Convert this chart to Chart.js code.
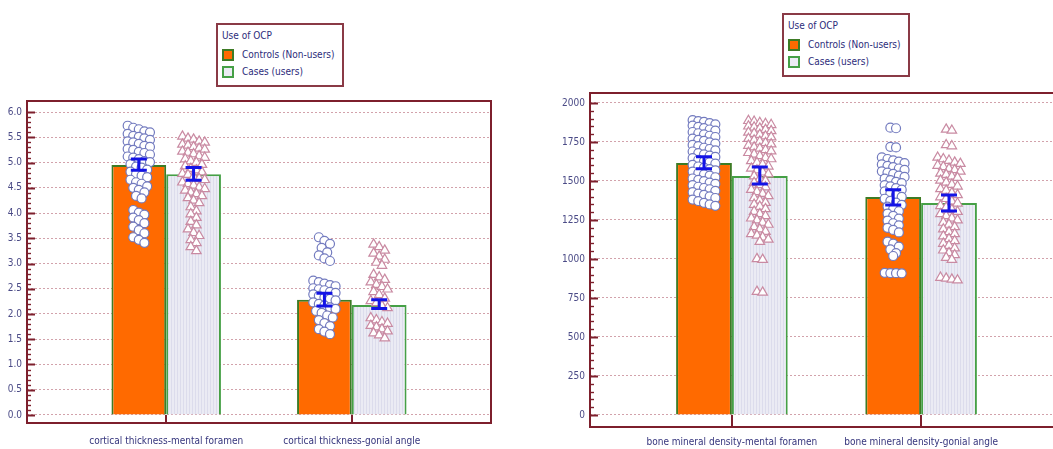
<!DOCTYPE html>
<html>
<head>
<meta charset="utf-8">
<script src="https://cdn.jsdelivr.net/npm/chart.js@4.4.1/dist/chart.umd.min.js"></script>
<style>
  html, body { margin: 0; padding: 0; background: #fff; width: 1053px; height: 449px; overflow: hidden; }
  .panel { position: absolute; top: 0; height: 449px; }
  #leftWrap { left: 0; width: 500px; }
  #rightWrap { left: 540px; width: 530px; }
  .legend {
    position: absolute; box-sizing: border-box; width: 128px; height: 64px;
    border: 2px solid #8a3a46; background: #fff; white-space: nowrap;
    font: 10px 'DejaVu Sans Condensed', sans-serif;
    color: #2c2c7a; padding: 3px 4px;
  }
  .legend .ttl { height: 16px; line-height: 16px; margin-bottom: 2px; }
  .legend .row { height: 17px; line-height: 17px; display: flex; align-items: center; }
  .legend .sw { width: 8px; height: 8px; border: 2px solid #3f7a22; margin-right: 8px; }
</style>
</head>
<body>
<div class="panel" id="leftWrap"><canvas id="leftChart" width="500" height="449"></canvas></div>
<div class="panel" id="rightWrap"><canvas id="rightChart" width="530" height="449"></canvas></div>
<div class="legend" id="legendL" style="left:216px;top:23px"></div>
<div class="legend" id="legendR" style="left:782px;top:13px"></div>
<script>
// series names and categories
const SERIES = ['Controls (Non-users)', 'Cases (users)'];
const LEGEND_TITLE = 'Use of OCP';
const CATS_L = ['cortical thickness-mental foramen', 'cortical thickness-gonial angle'];
const CATS_R = ['bone mineral density-mental foramen', 'bone mineral density-gonial angle'];

// y tick labels
const TICKS_L = [0, 0.5, 1, 1.5, 2, 2.5, 3, 3.5, 4, 4.5, 5, 5.5, 6];
const TICKS_R = [0, 250, 500, 750, 1000, 1250, 1500, 1750, 2000];

// bar heights (means)
const MEAN_CONTROLS_L = [4.95, 2.28];
const MEAN_CASES_L = [4.77, 2.18];
const MEAN_CONTROLS_R = [1615, 1397];
const MEAN_CASES_R = [1532, 1359];

// error bars (low, high)
const CI_CONTROLS_L = [[4.85, 5.07], [2.16, 2.41]];
const CI_CASES_L = [[4.65, 4.90], [2.11, 2.28]];
const CI_CONTROLS_R = [[1578, 1655], [1346, 1444]];
const CI_CASES_R = [[1480, 1590], [1308, 1410]];

// individual observations
const PTS_CONTROLS_L = [
  [5.73, 5.69, 5.66, 5.62, 5.6, 5.57, 5.53, 5.51, 5.48, 5.45, 5.42, 5.4, 5.37, 5.33, 5.31, 5.27, 5.25, 5.21, 5.19, 5.16,
   5.12, 5.1, 5.07, 5.03, 5.01, 4.97, 4.92, 4.9, 4.86, 4.82, 4.77, 4.74, 4.71, 4.66, 4.61, 4.58, 4.53, 4.5, 4.46, 4.41,
   4.34, 4.29, 4.06, 4.01, 3.97, 3.91, 3.86, 3.8, 3.73, 3.66, 3.6, 3.52, 3.47, 3.41],
  [3.52, 3.45, 3.39, 3.31, 3.22, 3.16, 3.1, 3.05, 2.66, 2.63, 2.6, 2.57, 2.55, 2.51, 2.49, 2.47, 2.44, 2.42, 2.39, 2.36,
   2.33, 2.3, 2.27, 2.23, 2.2, 2.17, 2.13, 2.1, 2.06, 2.02, 1.97, 1.93, 1.88, 1.82, 1.76, 1.7, 1.65, 1.6]
];
const PTS_CASES_L = [
  [5.52, 5.48, 5.46, 5.42, 5.4, 5.36, 5.34, 5.31, 5.28, 5.26, 5.22, 5.2, 5.17, 5.13, 5.1, 5.07, 5.03, 5.0, 4.96, 4.93,
   4.88, 4.85, 4.81, 4.78, 4.76, 4.72, 4.68, 4.66, 4.61, 4.58, 4.55, 4.51, 4.48, 4.45, 4.41, 4.38, 4.34, 4.3, 4.25, 4.2,
   4.12, 4.04, 3.98, 3.91, 3.83, 3.76, 3.68, 3.61, 3.55, 3.47, 3.41, 3.33, 3.25],
  [3.38, 3.33, 3.26, 3.2, 3.14, 3.08, 3.02, 2.96, 2.78, 2.73, 2.68, 2.63, 2.58, 2.54, 2.49, 2.44, 2.38, 2.31, 2.26, 2.22,
   2.16, 2.12, 1.92, 1.88, 1.84, 1.81, 1.77, 1.74, 1.7, 1.66, 1.62, 1.58, 1.52]
];
const PTS_CONTROLS_R = [
  [1890, 1884, 1879, 1871, 1863, 1855, 1847, 1839, 1830, 1823, 1814, 1806, 1799, 1790, 1782, 1772, 1764, 1757, 1748, 1740,
   1731, 1723, 1713, 1705, 1696, 1689, 1679, 1671, 1663, 1654, 1646, 1636, 1627, 1620, 1611, 1603, 1593, 1586, 1576, 1568,
   1560, 1550, 1542, 1534, 1524, 1516, 1507, 1499, 1489, 1481, 1473, 1463, 1455, 1447, 1437, 1428, 1419, 1411, 1401, 1391,
   1381, 1371, 1360, 1350, 1341],
  [1842, 1838, 1719, 1715, 1651, 1641, 1632, 1624, 1614, 1606, 1597, 1589, 1580, 1571, 1562, 1554, 1545, 1534, 1526, 1515,
   1506, 1494, 1486, 1474, 1466, 1454, 1444, 1433, 1421, 1409, 1398, 1386, 1373, 1361, 1347, 1336, 1321, 1306, 1291, 1276,
   1259, 1246, 1229, 1216, 1200, 1186, 1170, 1111, 1098, 1079, 1061, 1038, 1019, 911, 910, 909, 908]
];
const PTS_CASES_R = [
  [1886, 1881, 1873, 1867, 1860, 1851, 1844, 1837, 1829, 1821, 1811, 1804, 1797, 1787, 1781, 1771, 1761, 1753, 1744, 1736,
   1727, 1717, 1709, 1699, 1691, 1681, 1671, 1661, 1649, 1641, 1629, 1617, 1606, 1594, 1581, 1569, 1556, 1544, 1531, 1514,
   1501, 1489, 1476, 1461, 1444, 1431, 1419, 1404, 1391, 1376, 1361, 1349, 1336, 1321, 1304, 1289, 1276, 1261, 1249, 1234,
   1221, 1206, 1191, 1176, 1161, 1151, 1139, 1126, 1111, 1001, 996, 791, 786],
  [1831, 1824, 1731, 1724, 1651, 1641, 1631, 1619, 1611, 1599, 1591, 1579, 1571, 1561, 1549, 1541, 1529, 1521, 1504, 1491,
   1477, 1466, 1449, 1439, 1424, 1411, 1397, 1386, 1369, 1357, 1341, 1331, 1316, 1303, 1289, 1276, 1261, 1249, 1234, 1221,
   1206, 1191, 1174, 1161, 1146, 1129, 1116, 1099, 1086, 1069, 1056, 1039, 1026, 1009, 996, 881, 876, 869, 864]
];

const FONT = "'DejaVu Sans Condensed', sans-serif";
const MAROON = '#7d1f2c';
const CAT_PCT = 0.59;           // share of the category used by the two bars
const HALF = CAT_PCT / 4;       // offset from category centre to each bar centre

// legends (html)
function buildLegend(el) {
  el.innerHTML = '<div class="ttl">' + LEGEND_TITLE + '</div>' +
    '<div class="row"><span class="sw" style="background:#ff6a00;border-color:#3d7b25"></span>' + SERIES[0] + '</div>' +
    '<div class="row"><span class="sw" style="background:#ececf4;border-color:#46a046"></span>' + SERIES[1] + '</div>';
}
buildLegend(document.getElementById('legendL'));
buildLegend(document.getElementById('legendR'));

// stack close values in short rows so the dots sit side by side
function swarm(values, centre, thr, step) {
  const sorted = [...values].sort((a, b) => b - a);
  const out = [];
  let row = [];
  const flush = () => {
    row.forEach((v, k) => out.push({ x: centre + (k - (row.length - 1) / 2) * step, y: v }));
    row = [];
  };
  sorted.forEach(v => {
    if (row.length && (row[0] - v > thr || row.length >= 5)) flush();
    row.push(v);
  });
  flush();
  return out;
}

function stripes(ctx) {
  const c = document.createElement('canvas');
  c.width = 3; c.height = 4;
  const g = c.getContext('2d');
  g.fillStyle = '#ebebf4'; g.fillRect(0, 0, 3, 4);
  g.fillStyle = '#dcdcec'; g.fillRect(0, 0, 1, 4);
  return ctx.createPattern(c, 'repeat');
}

// frame, inner y ticks and category ticks
const framePlugin = {
  id: 'frame',
  afterDraw(chart, args, opts) {
    const { ctx, chartArea: a, scales } = chart;
    const y = scales.y, x = scales.x;
    ctx.save();
    ctx.strokeStyle = MAROON;
    for (let v = 0; v <= opts.top + 1e-9; v += opts.minor) {
      const py = Math.round(y.getPixelForValue(v)) + 0.5;
      const major = Math.abs(v / opts.major - Math.round(v / opts.major)) < 1e-6;
      ctx.lineWidth = major ? 2 : 1.4;
      ctx.beginPath();
      ctx.moveTo(a.left, py);
      ctx.lineTo(a.left + (major ? 8 : 4), py);
      ctx.stroke();
    }
    ctx.lineWidth = 2;
    x.ticks.forEach(t => {
      const px = Math.round(x.getPixelForValue(t.value));
      ctx.beginPath();
      ctx.moveTo(px, a.bottom);
      ctx.lineTo(px, y.getPixelForValue(0));
      ctx.stroke();
    });
    ctx.strokeRect(a.left, a.top, a.right - a.left, a.bottom - a.top);
    ctx.restore();
  }
};

// mean +/- CI markers
const errPlugin = {
  id: 'errbars',
  afterDatasetsDraw(chart, args, opts) {
    const { ctx, scales: { x, y } } = chart;
    ctx.save();
    ctx.strokeStyle = '#1414e6';
    ctx.lineWidth = 3;
    opts.groups.forEach(g => {
      g.ci.forEach((ci, i) => {
        const px = x.getPixelForValue(i + 1 + g.shift);
        const lo = y.getPixelForValue(ci[0]), hi = y.getPixelForValue(ci[1]);
        ctx.beginPath();
        ctx.moveTo(px, lo); ctx.lineTo(px, hi);
        ctx.moveTo(px - 8, lo); ctx.lineTo(px + 8, lo);
        ctx.moveTo(px - 8, hi); ctx.lineTo(px + 8, hi);
        ctx.stroke();
      });
    });
    ctx.restore();
  }
};

function makeChart(id, p) {
  const ctx = document.getElementById(id).getContext('2d');
  const ptsA = [], ptsB = [];
  p.ptsA.forEach((vals, i) => ptsA.push(...swarm(vals, i + 1 - HALF, p.thr, 0.03)));
  p.ptsB.forEach((vals, i) => ptsB.push(...swarm(vals, i + 1 + HALF, p.thr, 0.03)));
  return new Chart(ctx, {
    type: 'bar',
    data: {
      datasets: [
        {
          label: SERIES[0], order: 3,
          data: p.meanA.map((v, i) => ({ x: i + 1, y: v })),
          backgroundColor: '#ff6a00', borderColor: '#3d7b25', borderWidth: 2,
          barPercentage: 1, categoryPercentage: CAT_PCT
        },
        {
          label: SERIES[1], order: 3,
          data: p.meanB.map((v, i) => ({ x: i + 1, y: v })),
          backgroundColor: stripes(ctx), borderColor: '#46a046', borderWidth: 2,
          barPercentage: 1, categoryPercentage: CAT_PCT
        },
        {
          type: 'scatter', order: 1, data: ptsA,
          pointStyle: 'circle', pointRadius: 4.5, pointBorderWidth: 1.2,
          pointBackgroundColor: '#ffffff', pointBorderColor: '#737bbf'
        },
        {
          type: 'scatter', order: 1, data: ptsB,
          pointStyle: 'triangle', pointRadius: 5.5, pointBorderWidth: 1.2,
          pointBackgroundColor: '#ffffff', pointBorderColor: '#c98aa2'
        }
      ]
    },
    options: {
      responsive: false,
      animation: false,
      events: [],
      layout: { padding: { top: p.padTop, right: p.padRight, left: 0, bottom: 0 } },
      plugins: {
        legend: { display: false },
        tooltip: { enabled: false },
        frame: { minor: p.minor, major: p.major, top: p.ticks[p.ticks.length - 1] },
        errbars: { groups: [{ shift: -HALF, ci: p.ciA }, { shift: HALF, ci: p.ciB }] }
      },
      scales: {
        x: {
          type: 'linear', min: 0.25, max: 2.75, offset: false,
          grid: { display: false, drawTicks: false, offset: false },
          border: { display: false },
          afterBuildTicks: s => { s.ticks = p.cats.map((c, i) => ({ value: i + 1 })); },
          afterFit: s => { s.height = p.xHeight; },
          ticks: {
            callback: v => p.cats[v - 1] || '',
            color: '#34347c', font: { family: FONT, size: 10 },
            padding: p.xPad, maxRotation: 0, autoSkip: false
          }
        },
        y: {
          min: p.yMin, max: p.yMax,
          afterBuildTicks: s => { s.ticks = p.ticks.map(v => ({ value: v })); },
          afterFit: s => { s.width = p.yWidth; },
          grid: { color: '#d2a2ab', lineWidth: 1, drawTicks: false },
          border: { display: false, dash: [2, 2] },
          ticks: {
            callback: p.fmt,
            color: '#4a4a86', font: { family: FONT, size: 10 }, padding: 5
          }
        }
      }
    },
    plugins: [framePlugin, errPlugin]
  });
}

makeChart('leftChart', {
  cats: CATS_L, ticks: TICKS_L, meanA: MEAN_CONTROLS_L, meanB: MEAN_CASES_L,
  ciA: CI_CONTROLS_L, ciB: CI_CASES_L, ptsA: PTS_CONTROLS_L, ptsB: PTS_CASES_L,
  yMin: -0.16, yMax: 6.22, minor: 0.1, major: 0.5, thr: 0.14,
  padTop: 101, padRight: 9, yWidth: 27, xHeight: 26, xPad: 12,
  fmt: v => v.toFixed(1)
});

makeChart('rightChart', {
  cats: CATS_R, ticks: TICKS_R, meanA: MEAN_CONTROLS_R, meanB: MEAN_CASES_R,
  ciA: CI_CONTROLS_R, ciB: CI_CASES_R, ptsA: PTS_CONTROLS_R, ptsB: PTS_CASES_R,
  yMin: -77, yMax: 2064, minor: 50, major: 250, thr: 40,
  padTop: 93, padRight: 7, yWidth: 50, xHeight: 22, xPad: 9,
  fmt: v => String(v)
});
</script>
</body>
</html>
